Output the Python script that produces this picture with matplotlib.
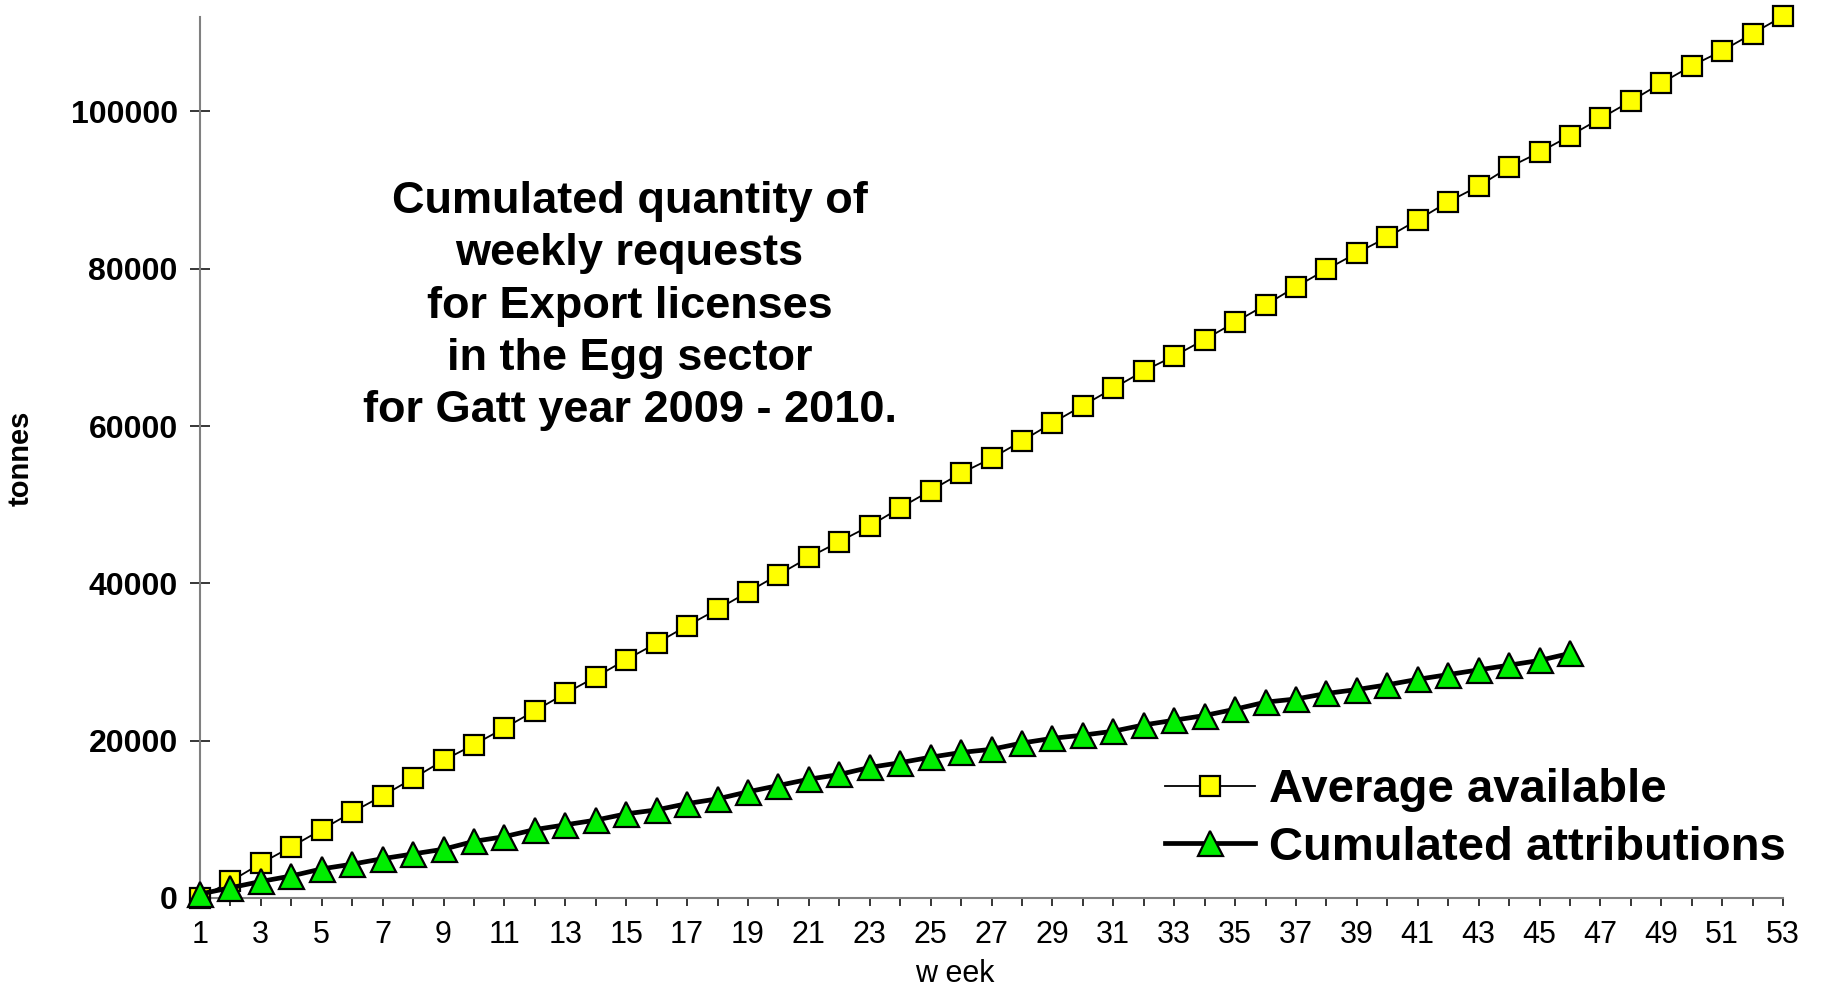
import matplotlib
matplotlib.use("Agg")
import matplotlib.pyplot as plt

plt.rcParams["font.family"] = ["Liberation Sans", "DejaVu Sans"]

# Weekly data (tonnes)
weeks_avail = list(range(1, 54))
average_available = [
    0, 2100, 4400, 6500, 8700, 10900, 13000, 15200, 17500, 19500,
    21600, 23800, 26000, 28100, 30300, 32400, 34600, 36700, 38900, 41100,
    43300, 45300, 47300, 49600, 51800, 54000, 55900, 58100, 60400, 62600,
    64800, 67000, 68900, 71000, 73200, 75400, 77700, 79900, 82000, 84000,
    86200, 88500, 90500, 92900, 94800, 96900, 99100, 101300, 103600, 105800,
    107700, 109900, 112100,
]
weeks_attr = list(range(1, 47))
cumulated_attributions = [
    500, 1300, 2100, 2800, 3700, 4300, 5000, 5600, 6200, 7200,
    7800, 8700, 9300, 9900, 10700, 11200, 12000, 12600, 13500, 14300,
    15100, 15700, 16600, 17200, 17900, 18500, 18900, 19700, 20300, 20700,
    21200, 22000, 22600, 23200, 24000, 24900, 25300, 26000, 26500, 27100,
    27800, 28400, 29000, 29600, 30200, 31100,
]
y_ticks = [0, 20000, 40000, 60000, 80000, 100000]

title_lines = [
    "Cumulated quantity of",
    "weekly requests",
    "for Export licenses",
    "in the Egg sector",
    "for Gatt year 2009 - 2010.",
]

fig = plt.figure(figsize=(18.26, 9.88), dpi=100)
ax = fig.add_axes([0.1095, 0.0911, 0.867, 0.8917])

ax.plot(weeks_avail, average_available, color="black", linewidth=1.3,
        marker="s", markersize=14, markerfacecolor="#FFFF00",
        markeredgecolor="black", markeredgewidth=1.6,
        label="Average available", zorder=3, clip_on=False)
ax.plot(weeks_attr, cumulated_attributions, color="black", linewidth=3.4,
        marker="^", markersize=18, markerfacecolor="#00EE00",
        markeredgecolor="black", markeredgewidth=1.6,
        label="Cumulated attributions", zorder=4, clip_on=False)

ax.set_xlim(1, 53)
ax.set_ylim(0, 112000)

ax.set_xticks(range(1, 54))
ax.set_xticklabels([str(w) if w % 2 == 1 else "" for w in range(1, 54)],
                   fontsize=22)
ax.set_yticks(y_ticks)
ax.set_yticklabels([str(v) for v in y_ticks], fontsize=23, fontweight="bold")

ax.tick_params(axis="x", direction="out", length=6, width=1.1, color="black", pad=10)
ax.tick_params(axis="y", direction="inout", length=14, width=1.1, color="black", pad=9)

for side in ["top", "right"]:
    ax.spines[side].set_visible(False)
for side in ["left", "bottom"]:
    ax.spines[side].set_color("#808080")
    ax.spines[side].set_linewidth(1.5)

fig.text(0.523, 0.014, "w eek", ha="center", va="center", fontsize=22)
fig.text(0.0112, 0.536, "tonnes", rotation=90, ha="center", va="center",
         fontsize=21, fontweight="bold")

# title block, one line per baseline
for i, line in enumerate(title_lines):
    fig.text(0.3448, 1 - (213 + 52.25 * i) / 988, line, ha="center",
             va="baseline", fontsize=32.5, fontweight="bold")

fig.legend(loc="center left", bbox_to_anchor=(0.638, 0.171), frameon=False,
           prop={"weight": "bold", "size": 34}, borderpad=0, borderaxespad=0,
           handlelength=1.9, handletextpad=0.3, labelspacing=0.28)

fig.savefig("out.png", dpi=100, facecolor="white")
